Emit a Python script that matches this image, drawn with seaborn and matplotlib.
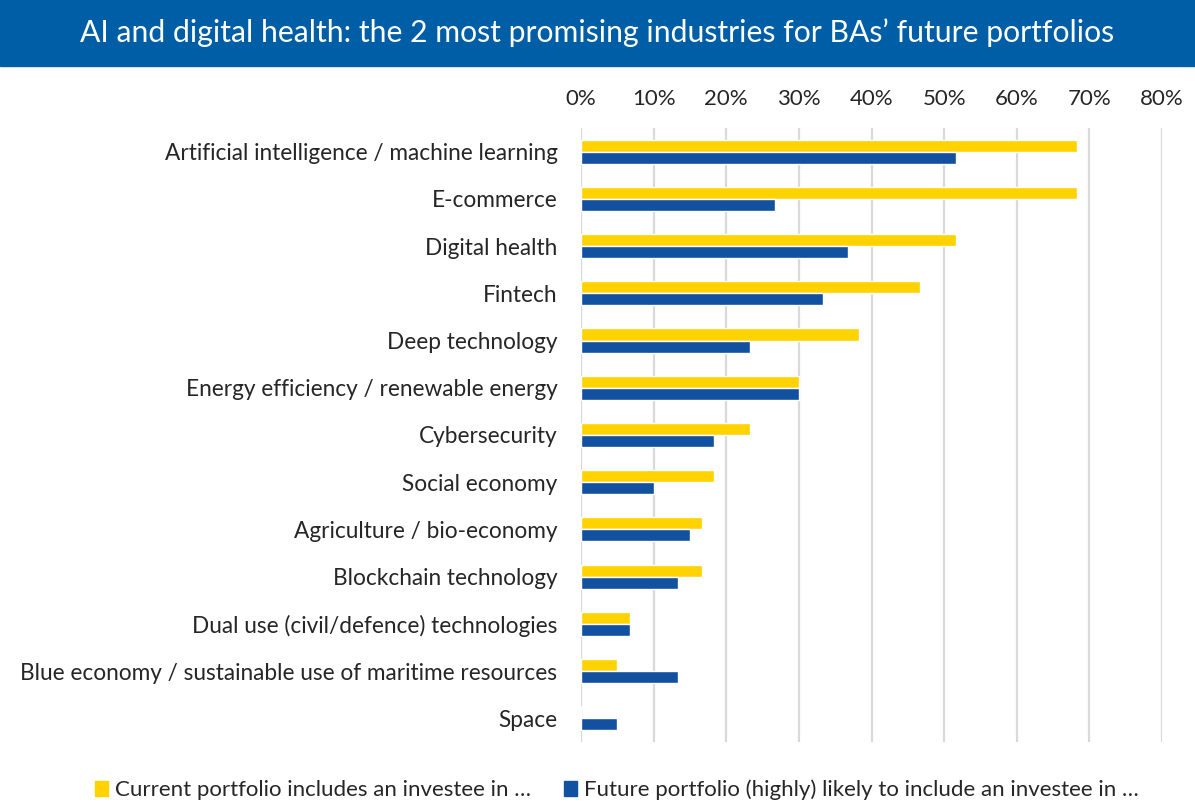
import matplotlib
matplotlib.use("Agg")
import matplotlib.pyplot as plt
import pandas as pd
import seaborn as sns
from matplotlib.patches import Rectangle
from matplotlib.ticker import FuncFormatter

YELLOW = "#FFD200"
BLUE = "#1250A0"
BANNER = "#005EA6"
GRID = "#D9D9D9"
TEXT = "#262626"

categories = [
    "Artificial intelligence / machine learning",
    "E-commerce",
    "Digital health",
    "Fintech",
    "Deep technology",
    "Energy efficiency / renewable energy",
    "Cybersecurity",
    "Social economy",
    "Agriculture / bio-economy",
    "Blockchain technology",
    "Dual use (civil/defence) technologies",
    "Blue economy / sustainable use of maritime resources",
    "Space",
]
current = [68.3, 68.3, 51.7, 46.7, 38.3, 30.0, 23.3, 18.3, 16.7, 16.7, 6.7, 5.0, 0.0]
future = [51.7, 26.7, 36.7, 33.3, 23.3, 30.0, 18.3, 10.0, 15.0, 13.3, 6.7, 13.3, 5.0]
series = ["Current portfolio includes an investee in …",
          "Future portfolio (highly) likely to include an investee in …"]
xticks = [0, 10, 20, 30, 40, 50, 60, 70, 80]

df = pd.DataFrame({
    "category": categories * 2,
    "value": current + future,
    "series": [series[0]] * len(categories) + [series[1]] * len(categories),
})

sns.set_theme(style="white")
plt.rcParams["font.family"] = ["Lato", "DejaVu Sans"]

fig = plt.figure(figsize=(11.95, 8.05), dpi=100)
ax = fig.add_axes([0.4862, 0.0783, 0.4862, 0.7627])

sns.barplot(data=df, x="value", y="category", hue="series", orient="h",
            palette=[YELLOW, BLUE], width=0.51, gap=0, ax=ax,
            saturation=1, legend=False, errorbar=None)

ax.set_xlim(0, 80)
ax.set_ylim(len(categories) - 0.5, -0.5)
ax.set_xticks(xticks)
ax.xaxis.set_major_formatter(FuncFormatter(lambda v, _: f"{v:.0f}%"))
ax.xaxis.tick_top()
ax.tick_params(axis="x", length=0, pad=14, labelsize=16, colors=TEXT)
ax.tick_params(axis="y", length=0, pad=17, labelsize=16.3, colors=TEXT)
ax.set_xlabel("")
ax.set_ylabel("")
for s in ax.spines.values():
    s.set_visible(False)
ax.grid(axis="x", color=GRID, lw=1.6)
ax.set_axisbelow(True)

# title banner
fig.patches.append(Rectangle((0, 0.918), 1, 0.082, transform=fig.transFigure,
                             color=BANNER, zorder=0))
fig.text(0.5, 0.959,
         "AI and digital health: the 2 most promising industries for BAs\u2019 future portfolios",
         color="white", fontsize=21.7, ha="center", va="center")

handles = [Rectangle((0, 0), 1, 1, color=YELLOW), Rectangle((0, 0), 1, 1, color=BLUE)]
fig.legend(handles, series, loc="center", bbox_to_anchor=(0.516, 0.0186), ncol=2,
           frameon=False, fontsize=16, handlelength=0.6, handleheight=0.6,
           handletextpad=0.3, columnspacing=1.5, labelcolor=TEXT)

fig.savefig("out.png", dpi=100)
